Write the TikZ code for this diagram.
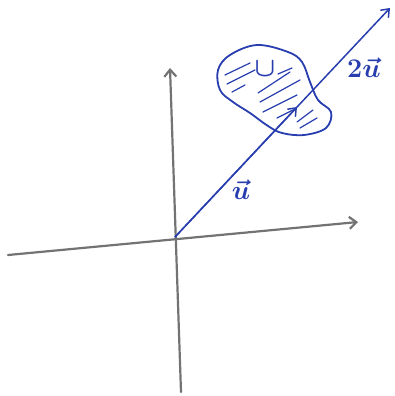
\documentclass[tikz,border=0pt]{standalone}
\usetikzlibrary{arrows.meta}
\definecolor{pen}{RGB}{40,62,175}
\definecolor{pencil}{RGB}{115,115,115}
\tikzset{
  axis/.style={draw=pencil,line width=2.2pt,line cap=round,-{Straight Barb[length=7pt,width=12pt,line width=2.2pt]}},
  vec/.style={draw=pen,line width=1.5pt},
  lbl/.style={text=pen,font=\huge\boldmath,scale=1.3,inner sep=1pt},
  hatch/.style={draw=pen,line width=1.2pt,line cap=round}
}
\begin{document}
\begin{tikzpicture}[x=1pt,y=-1pt]
\useasboundingbox (0,0) rectangle (394,396);
\coordinate (O) at (175,237);
\coordinate (xs) at (8,255);
\coordinate (xe) at (358,222);
\coordinate (ys) at (181,392);
\coordinate (ye) at (170,68);
\coordinate (ve) at (390,8);
\coordinate (mid) at (297,107);
% axes
\draw[axis] (xs) -- (xe);
\draw[axis] (ys) -- (ye);
% blob
\draw[vec,line width=1.8pt] plot[smooth cycle,tension=0.6] coordinates {(218,70) (230,55) (257,45) (288,52) (302,62) (310,82) (318,100) (331,112) (326,128) (304,135) (282,133) (268,126) (250,113) (233,102) (220,90)};
% hatching
\foreach \a/\b in {{(225,75)/(250,63)},{(227,84)/(255,70)},{(232,92)/(245,85)},{(258,93)/(290,72)},{(260,102)/(300,80)},{(263,112)/(297,95)},{(277,118)/(293,110)},{(297,122)/(313,110)},{(300,128)/(317,118)},{(278,74)/(292,68)}}{
  \draw[hatch] \a -- \b;
}
% vector line
\draw[vec,-{Straight Barb[length=7pt,width=11pt,line width=1.5pt]}] (O) -- (ve);
\draw[vec,-{Straight Barb[length=7pt,width=11pt,line width=1.5pt]}] (O) -- (mid);
% labels
\node[lbl] (U) at (265,69) {$\cup$};
\node[lbl] (u1) at (241,190) {$\vec{u}$};
\node[lbl] (u2) at (364,68) {$2\vec{u}$};
\end{tikzpicture}
\end{document}
